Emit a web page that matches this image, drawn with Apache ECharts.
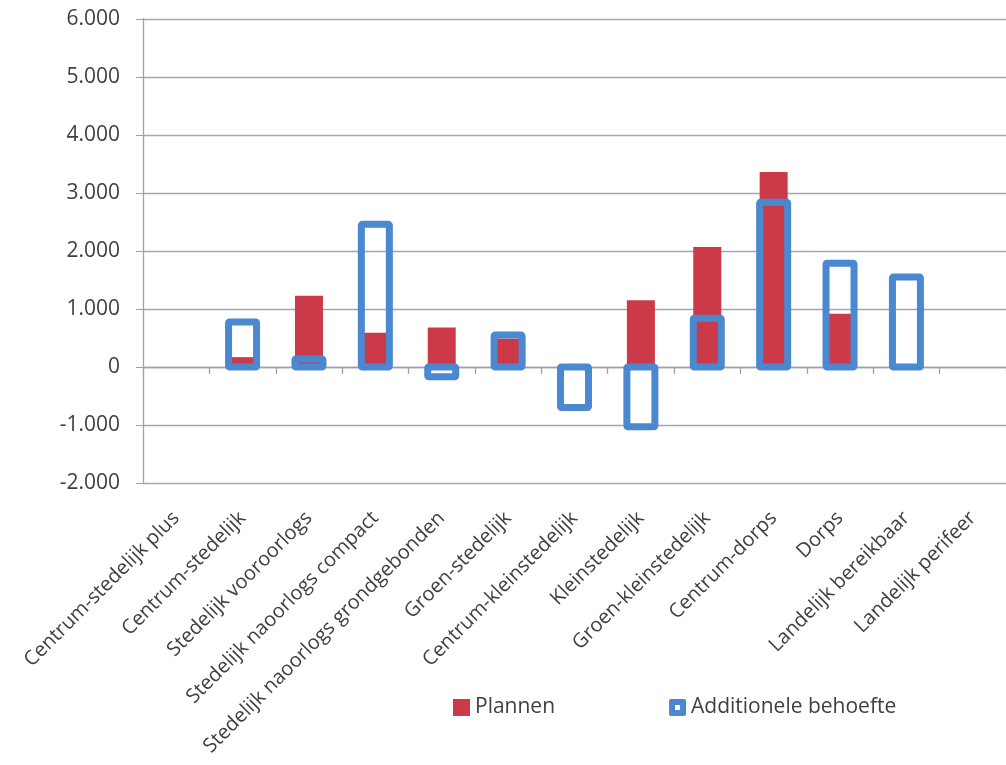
<!DOCTYPE html>
<html>
<head>
<meta charset="utf-8">
<script src="https://cdn.jsdelivr.net/npm/echarts@6/dist/echarts.min.js"></script>
<style>
html,body{margin:0;padding:0;background:#fff;}
#chart{width:1006px;height:765px;}
</style>
</head>
<body>
<div id="chart"></div>
<script>
var categories = ['Centrum-stedelijk plus','Centrum-stedelijk','Stedelijk vooroorlogs','Stedelijk naoorlogs compact','Stedelijk naoorlogs grondgebonden','Groen-stedelijk','Centrum-kleinstedelijk','Kleinstedelijk','Groen-kleinstedelijk','Centrum-dorps','Dorps','Landelijk bereikbaar','Landelijk perifeer'];
var plannen = [0, 170, 1230, 590, 680, 490, 0, 1150, 2070, 3360, 920, 50, 0];
var additioneleBehoefte = [0, 775, 140, 2460, -170, 550, -700, -1030, 840, 2840, 1790, 1550, 0];
var yTicks = {min: -2000, max: 6000, interval: 1000};

// zero values draw no bar in the reference
function noZero(arr) { return arr.map(function (v) { return v === 0 ? '-' : v; }); }
var blueData = [];
additioneleBehoefte.forEach(function (v, i) { if (v !== 0) blueData.push([i, v]); });

var BAR_W = 28;
var chart = echarts.init(document.getElementById('chart'));
var fontFam = '"Open Sans", "Noto Sans", sans-serif';
var textCol = '#404040';
var blue = '#4a88d0', red = '#cc3a4a';
chart.setOption({
  animation: false,
  backgroundColor: '#ffffff',
  grid: {left: 143, top: 19, width: 872, bottom: 282, containLabel: false},
  legend: {
    left: 453, top: 697, padding: 0,
    itemWidth: 17, itemHeight: 17, itemGap: 114,
    textStyle: {fontFamily: fontFam, fontSize: 21, color: textCol},
    data: [
      {name: 'Plannen', icon: 'rect', itemStyle: {color: red, borderWidth: 0}},
      {name: 'Additionele behoefte',
       icon: 'path://M2,0H15Q17,0 17,2V15Q17,17 15,17H2Q0,17 0,15V2Q0,0 2,0Z M6,6V11H11V6Z',
       itemStyle: {color: blue, borderWidth: 0}}
    ]
  },
  xAxis: [
    {
      type: 'category', data: categories, position: 'bottom',
      axisLine: {show: false, onZero: false}, axisTick: {show: false},
      axisLabel: {rotate: 45, interval: 0, margin: 32, fontFamily: fontFam, fontSize: 20, color: textCol},
      splitLine: {show: false}
    },
    {
      type: 'category', data: categories, position: 'top',
      axisLine: {show: true, onZero: true, lineStyle: {color: '#a0a0a8', width: 1.3}},
      axisTick: {show: true, inside: true, interval: 0, length: 7, lineStyle: {color: '#a0a0a8', width: 1.3}},
      axisLabel: {show: false}, splitLine: {show: false}
    }
  ],
  yAxis: {
    type: 'value', min: yTicks.min, max: yTicks.max, interval: yTicks.interval,
    axisLine: {show: true, lineStyle: {color: '#a0a0a8', width: 1.3}},
    axisTick: {show: true, length: 7, lineStyle: {color: '#a0a0a8'}},
    splitLine: {show: true, lineStyle: {color: '#a6a2bc', width: 1.3}},
    axisLabel: {
      margin: 23, fontFamily: fontFam, fontSize: 21, color: textCol,
      formatter: function (v) {
        var s = Math.abs(v).toString();
        s = s.replace(/\B(?=(\d{3})+(?!\d))/g, '.');
        return (v < 0 ? '-' : '') + s;
      }
    }
  },
  series: [
    {
      name: 'Plannen', type: 'bar', data: noZero(plannen), barWidth: BAR_W, xAxisIndex: 0,
      itemStyle: {color: red}, z: 2
    },
    {
      name: 'Additionele behoefte', type: 'custom', xAxisIndex: 0, yAxisIndex: 0,
      data: blueData, encode: {x: 0, y: 1}, z: 3,
      itemStyle: {color: blue},
      renderItem: function (params, api) {
        var idx = api.value(0);
        var p0 = api.coord([idx, 0]);
        var p1 = api.coord([idx, api.value(1)]);
        var top = Math.min(p0[1], p1[1]);
        var h = Math.abs(p1[1] - p0[1]);
        return {
          type: 'rect',
          shape: {x: p0[0] - BAR_W / 2, y: top, width: BAR_W, height: h, r: 1},
          style: {fill: null, stroke: blue, lineWidth: 7, lineJoin: 'round'}
        };
      }
    }
  ]
});
</script>
</body>
</html>
